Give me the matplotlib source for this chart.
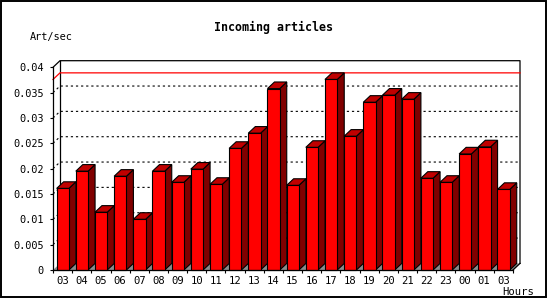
import matplotlib
matplotlib.use("Agg")
import matplotlib.pyplot as plt
from matplotlib.patches import Polygon, Rectangle

# data
hours = ["03", "04", "05", "06", "07", "08", "09", "10", "11", "12", "13", "14",
         "15", "16", "17", "18", "19", "20", "21", "22", "23", "00", "01", "03"]
rates = [0.0161, 0.0195, 0.0114, 0.0185, 0.0100, 0.0195, 0.0173, 0.0199,
         0.0169, 0.0240, 0.0270, 0.0358, 0.0167, 0.0242, 0.0376, 0.0264,
         0.0331, 0.0345, 0.0337, 0.0181, 0.0173, 0.0229, 0.0243, 0.0159]
y_ticks = [0, 0.005, 0.01, 0.015, 0.02, 0.025, 0.03, 0.035, 0.04]
y_labels = ["0", "0.005", "0.01", "0.015", "0.02", "0.025", "0.03", "0.035", "0.04"]

MONO = "DejaVu Sans Mono"
W, H = 550, 300
YMAX = 0.04
n = len(hours)

fig = plt.figure(figsize=(W / 100, H / 100), dpi=100)
fig.patch.set_facecolor("white")
ax = fig.add_axes([53 / W, 30 / H, 460 / W, 202.7 / H])
ax.set_xlim(0, n)
ax.set_ylim(0, YMAX)
ax.patch.set_alpha(0)

# depth offset of the 3D box, in data units (~7 px right, ~6.6 px up)
dx = 7 / 460 * n
dy = 6.6 / 202.7 * YMAX

# floor (only shows between the bars)
ax.add_patch(Polygon([(0, 0), (n, 0), (n + dx, dy), (dx, dy)], closed=True,
                     facecolor="#8c8c8c", edgecolor="none",
                     clip_on=False, zorder=1))

# back plane frame
kw = dict(color="black", lw=0.9, clip_on=False, zorder=2)
ax.plot([0, dx, n + dx, n + dx], [YMAX, YMAX + dy, YMAX + dy, dy], **kw)
ax.plot([dx, dx], [dy, YMAX + dy], **kw)
ax.plot([n, n + dx], [0, dy], **kw)

# dotted grid lines on back wall and left wall
for v in y_ticks[1:-1]:
    ax.plot([0, dx, n + dx], [v, v + dy, v + dy], color="black", lw=0.8,
            ls=(0, (2, 2.6)), clip_on=False, zorder=2)

# red line at max value
m = max(rates)
ax.plot([0, dx, n + dx], [m, m + dy, m + dy], color="red", lw=0.9,
        clip_on=False, zorder=3)

# 3D bars
x0, x1 = 0.19, 0.83
for i, v in enumerate(rates):
    a, b = i + x0, i + x1
    z = 10 + i
    ax.add_patch(Polygon([(b, 0), (b + dx, dy), (b + dx, v + dy), (b, v)],
                         closed=True, facecolor="#800000", edgecolor="black",
                         lw=0.8, clip_on=False, zorder=z))
    ax.add_patch(Polygon([(a, v), (a + dx, v + dy), (b + dx, v + dy), (b, v)],
                         closed=True, facecolor="#c00000", edgecolor="black",
                         lw=0.8, clip_on=False, zorder=z))
    ax.add_patch(Rectangle((a, 0), b - a, v, facecolor="#ff0000",
                           edgecolor="black", lw=0.8, clip_on=False, zorder=z))

# axes
for s in ["top", "right"]:
    ax.spines[s].set_visible(False)
for s in ["left", "bottom"]:
    ax.spines[s].set_linewidth(0.9)
    ax.spines[s].set_zorder(50)

ax.set_yticks(y_ticks)
ax.set_yticklabels(y_labels, fontfamily=MONO, fontsize=7.4)
ax.tick_params(axis="y", direction="out", length=2.5, width=0.8, pad=4)

ax.set_xticks(range(n + 1))
ax.set_xticklabels([])
ax.tick_params(axis="x", which="major", direction="out", length=2.5, width=0.8)
ax.set_xticks([i + 0.5 for i in range(n)], minor=True)
ax.set_xticklabels(hours, minor=True, fontfamily=MONO, fontsize=7.6)
ax.tick_params(axis="x", which="minor", length=0, pad=4)

# texts
fig.text(274 / W, 1 - 27 / H, "Incoming articles", ha="center", va="center",
         fontfamily=MONO, fontsize=8.4, fontweight="bold")
fig.text(30 / W, 1 - 37 / H, "Art/sec", ha="left", va="center",
         fontfamily=MONO, fontsize=7.4)
fig.text(534 / W, 1 - 292 / H, "Hours", ha="right", va="center",
         fontfamily=MONO, fontsize=7.6)

# outer frame
fig.patches.append(Rectangle((1 / W, 3 / H), 545 / W, 296 / H,
                             transform=fig.transFigure, fill=False,
                             edgecolor="black", lw=1.4))

fig.savefig("out.png", dpi=100)
